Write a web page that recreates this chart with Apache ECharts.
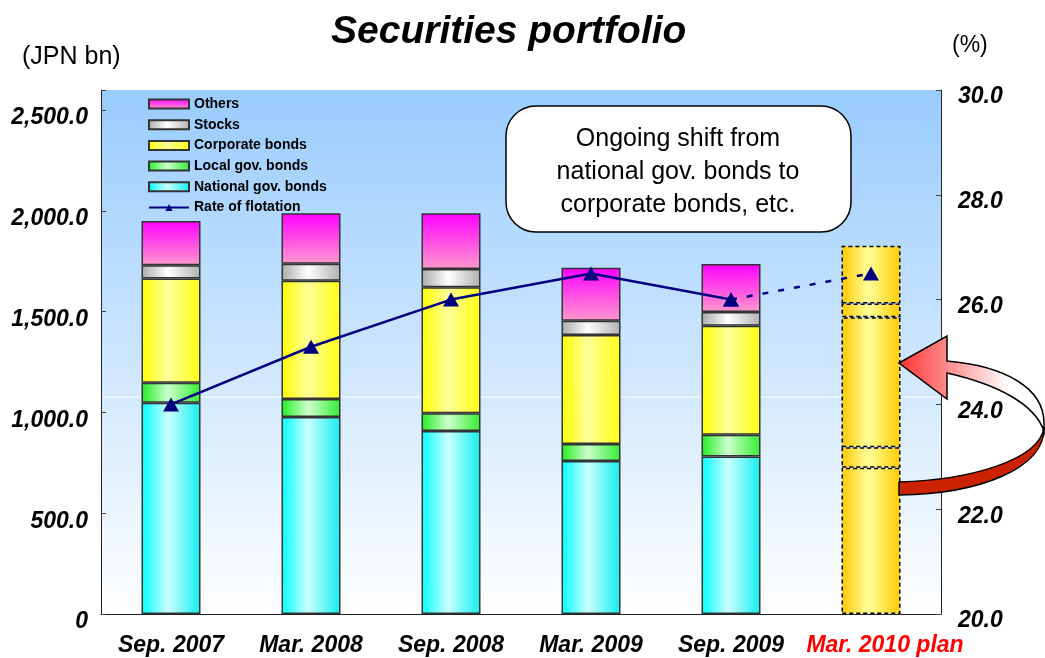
<!DOCTYPE html>
<html>
<head>
<meta charset="utf-8">
<title>Securities portfolio</title>
<script src="https://cdn.jsdelivr.net/npm/echarts@6.0.0/dist/echarts.min.js"></script>
<style>
  html, body { margin: 0; padding: 0; background: #fff; }
  #chart { width: 1045px; height: 658px; }
</style>
</head>
<body>
<div id="chart"></div>
<script>
// data (JPN bn, rate in %)
const categories = ['Sep. 2007', 'Mar. 2008', 'Sep. 2008', 'Mar. 2009', 'Sep. 2009', 'Mar. 2010 plan']
const nationalGov = [1048, 978, 908, 759, 781, 726]
const localGov = [99, 89, 88, 84, 108, 101]
const corporateBonds = [518, 587, 625, 541, 541, 645]
const stocks = [65, 84, 91, 71, 69, 69]
const others = [220, 250, 276, 263, 238, 286]
const rateActual = [24.0, 25.1, 26.0, 26.5, 26.0, '-']
const ratePlan = ['-', '-', '-', '-', 26.0, 26.5]
const leftTicks = [0, 500, 1000, 1500, 2000, 2500]
const rightTicks = [20, 22, 24, 26, 28, 30]

const FONT = '"Liberation Sans", Arial, sans-serif'
const PLAN = categories.length - 1

// curved arrow shapes (decoration)
echarts.graphic.registerShape('arrowBack', echarts.graphic.extendPath(
  'M 1044 427 C 1040 460 970 480 899 482 L 899 495 C 980 494 1046 468 1044 427 Z', {}))
echarts.graphic.registerShape('arrowFront', echarts.graphic.extendPath(
  'M 899 363 L 947 336 L 947 361 C 1005 366 1044 388 1044 423 L 1044 431 C 1035 405 1000 385 947 373 L 947 399 Z', {}))

const hGrad = (edge, mid, edge2) => new echarts.graphic.LinearGradient(0, 0, 1, 0, [
  {offset: 0, color: edge}, {offset: 0.45, color: mid}, {offset: 1, color: edge2 || edge}
])

const planStyle = {
  color: hGrad('#ffc800', '#ffff99', '#ffcc00'),
  borderColor: '#000',
  borderWidth: 1.5,
  borderType: [4, 3]
}

const barSeries = (name, values, color) => ({
  name: name,
  type: 'bar',
  stack: 'total',
  barWidth: 59,
  yAxisIndex: 0,
  itemStyle: {color: color, borderColor: '#333', borderWidth: 1.5},
  data: values.map((v, i) => i === PLAN ? {value: v, itemStyle: planStyle} : v)
})

const axisFont = {
  fontSize: 23,
  fontWeight: 'bold',
  fontStyle: 'italic',
  fontFamily: FONT,
  color: '#000'
}

const chart = echarts.init(document.getElementById('chart'))

const option = {
  animation: false,
  textStyle: {fontFamily: FONT},
  title: {
    text: 'Securities portfolio',
    left: 326,
    top: 8,
    textStyle: {fontSize: 39, fontWeight: 'bold', fontStyle: 'italic', color: '#000', fontFamily: FONT}
  },
  grid: {
    left: 101, right: 104, top: 90, bottom: 44,
    show: true,
    borderWidth: 0,
    backgroundColor: new echarts.graphic.LinearGradient(0, 0, 0, 1, [
      {offset: 0, color: '#99ccff'}, {offset: 1, color: '#ffffff'}
    ])
  },
  legend: {
    orient: 'vertical',
    left: 143,
    top: 92,
    itemWidth: 40,
    itemHeight: 9,
    itemGap: 6.7,
    textStyle: {fontSize: 14, fontWeight: 'bold', color: '#000', fontFamily: FONT},
    data: [
      {name: 'Others', icon: 'rect'},
      {name: 'Stocks', icon: 'rect'},
      {name: 'Corporate bonds', icon: 'rect'},
      {name: 'Local gov. bonds', icon: 'rect'},
      {name: 'National gov. bonds', icon: 'rect'},
      {name: 'Rate of flotation'}
    ]
  },
  xAxis: {
    type: 'category',
    data: categories,
    axisLine: {lineStyle: {color: '#222', width: 1}},
    axisTick: {inside: true, length: 6, lineStyle: {color: '#444'}},
    axisLabel: Object.assign({
      interval: 0,
      margin: 20,
      formatter: (v, i) => i === PLAN ? '{plan|' + v + '}' : v,
      rich: {plan: Object.assign({}, axisFont, {color: '#ff0000', padding: [0, 0, 0, 28]})}
    }, axisFont)
  },
  yAxis: [
    {
      type: 'value',
      min: 0,
      max: 2600,
      interval: 500,
      splitLine: {show: false},
      axisLine: {show: true, lineStyle: {color: '#222'}},
      axisTick: {show: true, inside: true, length: 5, lineStyle: {color: '#444'}},
      axisLabel: Object.assign({
        margin: 13,
        verticalAlign: 'top',
        lineHeight: 16,
        formatter: v => {
          if (leftTicks.indexOf(v) < 0) return ''
          if (v === 0) return '0'
          return v.toLocaleString('en-US', {minimumFractionDigits: 1, maximumFractionDigits: 1})
        }
      }, axisFont)
    },
    {
      type: 'value',
      position: 'right',
      min: 20,
      max: 30,
      interval: 2,
      splitLine: {show: false},
      axisLine: {show: true, lineStyle: {color: '#222'}},
      axisTick: {show: true, inside: true, length: 5, lineStyle: {color: '#444'}},
      axisLabel: Object.assign({
        margin: 17,
        verticalAlign: 'top',
        lineHeight: 14,
        formatter: v => rightTicks.indexOf(v) < 0 ? '' : v.toFixed(1)
      }, axisFont)
    }
  ],
  series: [
    barSeries('National gov. bonds', nationalGov, hGrad('#00ffff', '#ccffff', '#11eeee')),
    barSeries('Local gov. bonds', localGov, hGrad('#22ee22', '#ccffcc', '#33ee33')),
    barSeries('Corporate bonds', corporateBonds, hGrad('#ffff00', '#ffff99', '#ffff11')),
    barSeries('Stocks', stocks, hGrad('#aaaaaa', '#ffffff', '#b0b0b0')),
    barSeries('Others', others, new echarts.graphic.LinearGradient(0, 0, 0, 1, [
      {offset: 0, color: '#ff00ff'}, {offset: 1, color: '#ff99cc'}
    ])),
    {
      name: 'Rate of flotation',
      type: 'line',
      yAxisIndex: 1,
      symbol: 'triangle',
      symbolSize: [16, 14],
      itemStyle: {color: '#000080'},
      lineStyle: {color: '#000080', width: 2.5},
      data: rateActual,
      z: 5
    },
    {
      name: 'Rate plan',
      type: 'line',
      yAxisIndex: 1,
      symbol: 'triangle',
      symbolSize: [16, 14],
      itemStyle: {color: '#000080'},
      lineStyle: {color: '#000080', width: 2.5, type: [6, 10]},
      data: ratePlan,
      z: 5
    }
  ],
  graphic: [
    // faint white line in the background
    {type: 'line', z: 1, silent: true, shape: {x1: 102, y1: 397, x2: 940, y2: 397}, style: {stroke: '#ffffff', lineWidth: 1}},
    {type: 'text', x: 22, y: 57, style: {text: '(JPN bn)', font: '25px ' + FONT, fill: '#000', verticalAlign: 'middle'}},
    {type: 'text', x: 952, y: 46, style: {text: '(%)', font: '23px ' + FONT, fill: '#000', verticalAlign: 'middle'}},
    // callout
    {
      type: 'rect', z: 100,
      shape: {x: 506, y: 106, width: 345, height: 126, r: 30},
      style: {fill: '#fff', stroke: '#000', lineWidth: 1.5}
    },
    {
      type: 'text', z: 101,
      x: 678, y: 172,
      style: {
        text: 'Ongoing shift from\nnational gov. bonds to\ncorporate bonds, etc.',
        font: '25px ' + FONT,
        fill: '#000',
        align: 'center',
        verticalAlign: 'middle',
        lineHeight: 33
      }
    },
    // curved arrow
    {
      type: 'arrowBack', z: 100,
      style: {fill: '#cc2200', stroke: '#000', lineWidth: 1.5}
    },
    {
      type: 'arrowFront', z: 101,
      style: {
        fill: new echarts.graphic.LinearGradient(0, 0, 1, 0, [
          {offset: 0, color: '#ff3030'}, {offset: 0.35, color: '#ff9090'}, {offset: 0.75, color: '#ffffff'}, {offset: 1, color: '#ffffff'}
        ]),
        stroke: '#000',
        lineWidth: 1.5
      }
    }
  ]
}

chart.setOption(option)
</script>
</body>
</html>
